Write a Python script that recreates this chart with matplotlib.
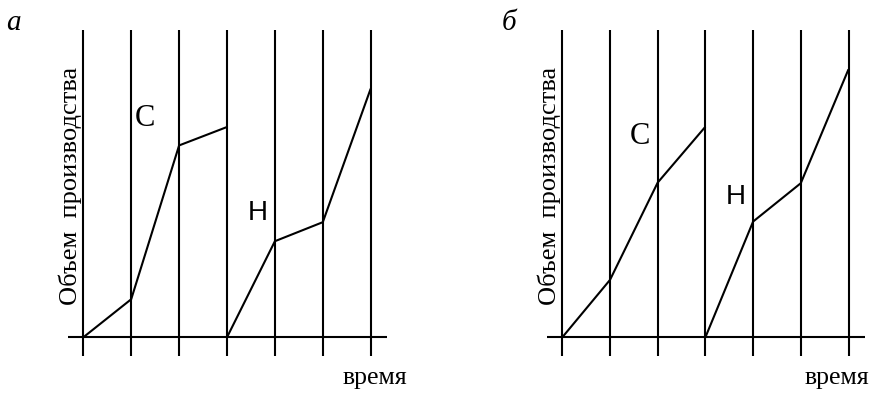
import matplotlib
matplotlib.use("Agg")
import matplotlib.pyplot as plt
import numpy as np

# Периоды времени (индексы вертикальных линий)
periods = np.arange(7)
top_level = 10.0

# Панель а: объем производства, условные единицы
a_c_x = [0, 1, 2, 3]
a_c_y = [0, 1.24, 6.25, 6.85]
a_h_x = [3, 4, 5, 6]
a_h_y = [0, 3.13, 3.75, 8.1]

# Панель б
b_c_x = [0, 1, 2, 3]
b_c_y = [0, 1.87, 5.04, 6.86]
b_h_x = [3, 4, 5, 6]
b_h_y = [0, 3.77, 5.02, 8.73]

panel_letters = ["а", "б"]
ylabel_text = "Объем  производства"
xlabel_text = "время"

W, H = 874, 393
fig = plt.figure(figsize=(W / 100, H / 100), dpi=100)

serif = ["Liberation Serif", "DejaVu Serif"]
sans = ["Liberation Sans", "DejaVu Sans"]


def add_panel(x0_px, step_px, c_x, c_y, h_x, h_y, letter, letter_x, c_pos, h_pos, t_x):
    # ось в пикселях: y0 = 337.3 px сверху, 30.7 px на единицу
    y0_px = 337.3
    unit = 30.7
    xlim = (-1.6, 7.0)
    ylim = (-1.8, 10.9)
    left = (x0_px + xlim[0] * step_px) / W
    width = (xlim[1] - xlim[0]) * step_px / W
    bottom = (H - (y0_px - ylim[0] * unit)) / H
    height = (ylim[1] - ylim[0]) * unit / H
    ax = fig.add_axes([left, bottom, width, height])
    ax.set_xlim(*xlim)
    ax.set_ylim(*ylim)
    ax.axis("off")

    ax.vlines(periods, -0.61, top_level, color="black", lw=1.5)
    ax.hlines(0, -0.32, 6.34, color="black", lw=1.5)
    ax.plot(c_x, c_y, color="black", lw=1.5, solid_capstyle="butt")
    ax.plot(h_x, h_y, color="black", lw=1.5, solid_capstyle="butt")

    ax.text(letter_x, 10.24, letter, fontsize=21, style="italic", family=serif,
            ha="center", va="center")
    ax.text(-0.28, 4.93, ylabel_text, fontsize=19, family=serif, rotation=90,
            ha="center", va="center")
    ax.text(c_pos[0], c_pos[1], "С", fontsize=22, family=serif, ha="center", va="center")
    ax.text(h_pos[0], h_pos[1], "Н", fontsize=20, family=sans, ha="center", va="center")
    ax.text(t_x, -1.52, xlabel_text, fontsize=18.5, family=serif, ha="center", va="baseline")
    return ax


add_panel(83.3, 47.9, a_c_x, a_c_y, a_h_x, a_h_y, panel_letters[0], -1.45,
          (1.29, 7.14), (3.65, 4.04), 6.09)
add_panel(562.3, 47.7, b_c_x, b_c_y, b_h_x, b_h_y, panel_letters[1], -1.12,
          (1.63, 6.53), (3.64, 4.58), 5.75)

fig.savefig("out.png", dpi=100, facecolor="white")
